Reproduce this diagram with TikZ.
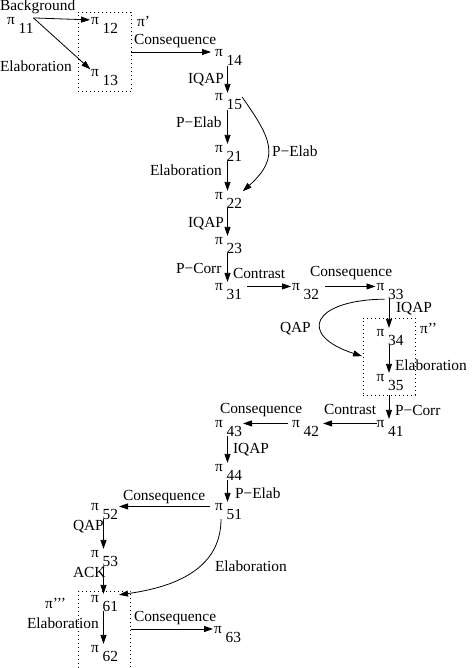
\documentclass[tikz,border=0pt]{standalone}
\usepackage{fontspec}
\setmainfont{Liberation Serif}
\usetikzlibrary{arrows.meta}
\begin{document}
\begin{tikzpicture}[x=1bp,y=-1bp, font=\fontsize{15.4bp}{18bp}\selectfont,
  term/.style={inner sep=0pt, outer sep=0pt, anchor=base west},
  lab/.style={inner sep=0pt, outer sep=0pt, anchor=base west},
  arr/.style={-{Triangle[length=9bp,width=6bp]}, line width=0.8bp, shorten >=1bp},
  grp/.style={draw, rectangle, dash pattern=on 1bp off 3bp, line width=0.8bp, inner sep=0pt, outer sep=0pt},
]
\useasboundingbox (0,0) rectangle (474,668);
% terms
\node[term] (p11) at (7,25) {π \raisebox{-9bp}{11}};
\node[term] (p12) at (91,25) {π \raisebox{-9bp}{12}};
\node[term] (p13) at (91,77) {π \raisebox{-9bp}{13}};
\node[term] (p14) at (215,57) {π \raisebox{-9bp}{14}};
\node[term] (p15) at (215,101) {π \raisebox{-9bp}{15}};
\node[term] (p21) at (215,152) {π \raisebox{-9bp}{21}};
\node[term] (p22) at (215,199) {π \raisebox{-9bp}{22}};
\node[term] (p23) at (215,244) {π \raisebox{-9bp}{23}};
\node[term] (p31) at (215,290) {π \raisebox{-9bp}{31}};
\node[term] (p32) at (292,290) {π \raisebox{-9bp}{32}};
\node[term] (p33) at (376.5,290) {π \raisebox{-9bp}{33}};
\node[term] (p34) at (376.5,336) {π \raisebox{-9bp}{34}};
\node[term] (p35) at (376.5,381) {π \raisebox{-9bp}{35}};
\node[term] (p41) at (376.5,427) {π \raisebox{-9bp}{41}};
\node[term] (p42) at (292,427) {π \raisebox{-9bp}{42}};
\node[term] (p43) at (215,427) {π \raisebox{-9bp}{43}};
\node[term] (p44) at (215,471) {π \raisebox{-9bp}{44}};
\node[term] (p51) at (215,510) {π \raisebox{-9bp}{51}};
\node[term] (p52) at (91,510) {π \raisebox{-9bp}{52}};
\node[term] (p53) at (91,557) {π \raisebox{-9bp}{53}};
\node[term] (p61) at (91,602) {π \raisebox{-9bp}{61}};
\node[term] (p62) at (91,652) {π \raisebox{-9bp}{62}};
\node[term] (p63) at (214,633) {π \raisebox{-9bp}{63}};
% groups
\node[grp, minimum width=53bp, minimum height=79bp] (b1) at (104.5,52) {};
\node[grp, minimum width=52bp, minimum height=77bp] (b2) at (389,356.5) {};
\node[grp, minimum width=52bp, minimum height=84bp] (b3) at (104.5,633) {};
% labels
\node[lab] (l1) at (0,11) {Background};
\node[lab] (l2) at (0,72) {Elaboration};
\node[lab] (l3) at (137,27) {π’};
\node[lab] (l4) at (134,45) {Consequence};
\node[lab] (l5) at (188,84) {IQAP};
\node[lab] (l6) at (176,128) {P−Elab};
\node[lab] (l7) at (150,175) {Elaboration};
\node[lab] (l8) at (272,156) {P−Elab};
\node[lab] (l9) at (188,227) {IQAP};
\node[lab] (l10) at (176,273) {P−Corr};
\node[lab] (l11) at (233,278) {Contrast};
\node[lab] (l12) at (310,276) {Consequence};
\node[lab] (l13) at (396,312) {IQAP};
\node[lab] (l14) at (420,333) {π’’};
\node[lab] (l15) at (280,332) {QAP};
\node[lab] (l16) at (395,370) {Elaboration};
\node[lab] (l17) at (395,415) {P−Corr};
\node[lab] (l18) at (324,414) {Contrast};
\node[lab] (l19) at (220,413) {Consequence};
\node[lab] (l20) at (233,453) {IQAP};
\node[lab] (l21) at (235,498) {P−Elab};
\node[lab] (l22) at (123,500) {Consequence};
\node[lab] (l23) at (73,530) {QAP};
\node[lab] (l24) at (73,577) {ACK};
\node[lab] (l25) at (215,571) {Elaboration};
\node[lab] (l26) at (45,608) {π’’’};
\node[lab] (l27) at (27,628) {Elaboration};
\node[lab] (l28) at (134,621) {Consequence};
% connectors
\draw[arr] (p11.north east) -- ([yshift=-2bp]p12.north west);
\draw[arr] (p11.north east) -- (p13.north west);
\draw[arr, shorten >=4bp] (b1.east) -- (b1.east -| p14.west);
\draw[arr] ([xshift=12.5bp]p14.south west) -- ([xshift=12.5bp]p15.north west);
\draw[arr] ([xshift=12.5bp]p15.south west) -- ([xshift=12.5bp]p21.north west);
\draw[arr] ([xshift=12.5bp]p21.south west) -- ([xshift=12.5bp]p22.north west);
\draw[arr] ([xshift=12.5bp]p22.south west) -- ([xshift=12.5bp]p23.north west);
\draw[arr] ([xshift=12.5bp]p23.south west) -- ([xshift=12.5bp]p31.north west);
\draw[arr] ([yshift=-3bp]p15.north east) .. controls (271,138) and (281,157) .. (p22.north east);
\draw[arr] ([shift={(5bp,-3.5bp)}]p31.north east) -- ([yshift=-3.5bp]p31.north west -| p32.west);
\draw[arr] ([shift={(6bp,-3.5bp)}]p32.north east) -- ([yshift=-3.5bp]p32.north west -| p33.west);
\draw[arr] ([xshift=12.5bp]p33.south west) -- ([xshift=12.5bp]p34.north west);
\draw[arr] ([xshift=12.5bp]p34.south west) -- ([xshift=12.5bp]p35.north west);
\draw[arr] ([xshift=8bp]p33.south west) .. controls (312,300) and (297,335) .. (b2.west);
\draw[arr] (b2.south) -- (b2.south |- p41.north);
\draw[arr] ([yshift=-3.5bp]p41.north west) -- ([shift={(3bp,-3.5bp)}]p42.north east);
\draw[arr] ([shift={(-4bp,-3.5bp)}]p42.north west) -- ([yshift=-3.5bp]p43.north east);
\draw[arr] ([xshift=12.5bp]p43.south west) -- ([xshift=12.5bp]p44.north west);
\draw[arr] ([xshift=12.5bp]p44.south west) -- ([xshift=12.5bp]p51.north west);
\draw[arr] ([shift={(-5bp,-3.5bp)}]p51.north west) -- ([yshift=-3.5bp]p52.north east);
\draw[arr] ([xshift=12.5bp]p52.south west) -- ([xshift=12.5bp]p53.north west);
\draw[arr] ([xshift=12.5bp]p53.south west) -- ([xshift=12.5bp]p61.north west);
\draw[arr] ([xshift=12.5bp]p61.south west) -- ([xshift=12.5bp]p62.north west);
\draw[arr] ([xshift=6bp]p51.south west) .. controls (221,560) and (190,585) .. (p61.north east);
\draw[arr] ([yshift=4bp]b3.east) -- ([yshift=4bp]b3.east -| p63.west);
\end{tikzpicture}
\end{document}
